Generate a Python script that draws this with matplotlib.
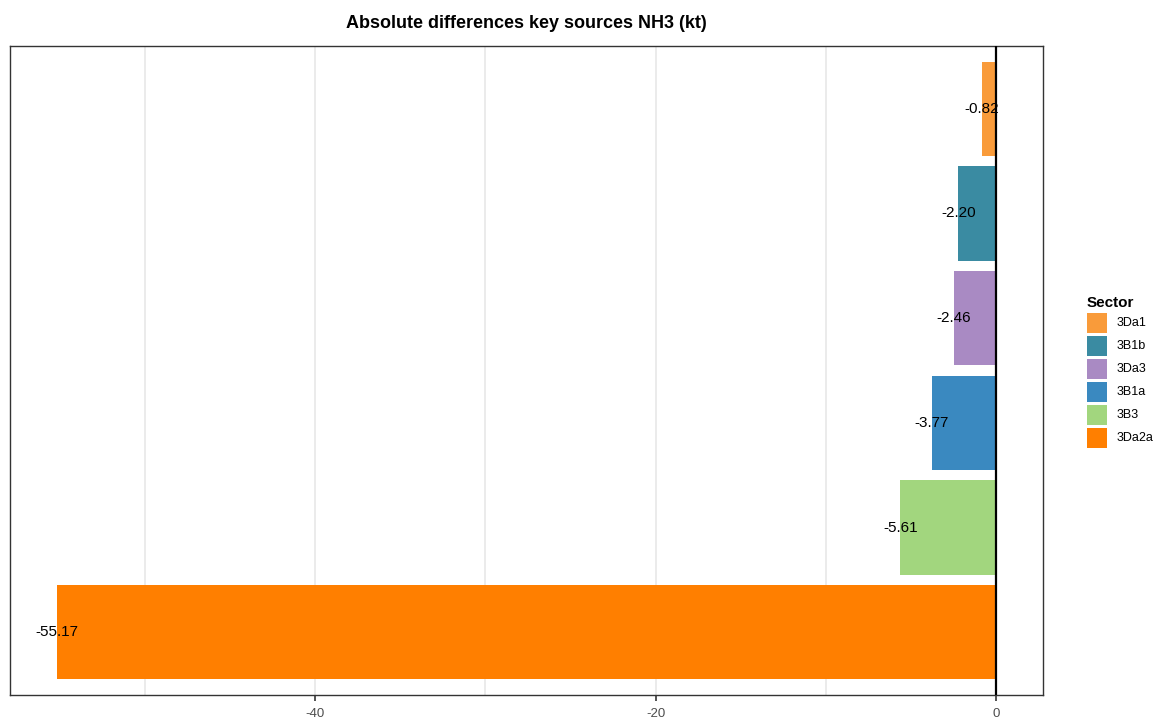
import matplotlib.pyplot as plt
from matplotlib.patches import Patch

plt.rcParams['font.family'] = ['Liberation Sans', 'DejaVu Sans']

# data, top to bottom as shown
sectors = ['3Da1', '3B1b', '3Da3', '3B1a', '3B3', '3Da2a']
values = [-0.82, -2.20, -2.46, -3.77, -5.61, -55.17]
colors = ['#F99B3A', '#3A8BA2', '#A98AC3', '#3A89C0', '#A2D67E', '#FF7F00']
xticks = [-40, -20, 0]

fig = plt.figure(figsize=(11.58, 7.2), dpi=100)
ax = fig.add_axes([0.0086, 0.0347, 0.892, 0.9014])

ypos = list(range(len(sectors), 0, -1))
ax.barh(ypos, values, height=0.9, color=colors, zorder=2)
for y, v in zip(ypos, values):
    ax.text(v, y, f'{v:.2f}', ha='center', va='center', fontsize=11, color='black', zorder=4)

ax.axvline(0, color='black', lw=1.6, zorder=3)

lo = min(values)
pad = (0 - lo) * 0.05
ax.set_xlim(lo - pad, 0 + pad)
ax.set_ylim(0.4, len(sectors) + 0.6)

ax.set_xticks(xticks)
ax.set_xticks([-50, -30, -10], minor=True)
ax.set_xticklabels([str(t) for t in xticks], fontsize=9.5, color='#4D4D4D')
ax.tick_params(axis='x', which='major', length=4, width=1.2, color='#333333', pad=5)
ax.tick_params(axis='x', which='minor', length=0)
ax.set_yticks([])
ax.grid(axis='x', which='both', color='#E5E5E5', lw=1.1, zorder=0)
for s in ax.spines.values():
    s.set_color('#333333')
    s.set_linewidth(1.0)

ax.set_title('Absolute differences key sources NH3 (kt)', fontsize=13, fontweight='bold', pad=13)

# square ~20px keys with a small gap between them
handles = [Patch(facecolor=c, edgecolor='none') for c in colors]
leg = fig.legend(handles, sectors, title='Sector', loc='center left',
                 bbox_to_anchor=(0.9387, 0.484), frameon=False, fontsize=9,
                 handlelength=1.6, handleheight=2.085, labelspacing=0.24,
                 handletextpad=0.8, borderaxespad=0, borderpad=0)
leg.get_title().set_fontweight('bold')
leg.get_title().set_fontsize(11)
leg._legend_box.align = 'left'

fig.savefig('out.png', dpi=100)
